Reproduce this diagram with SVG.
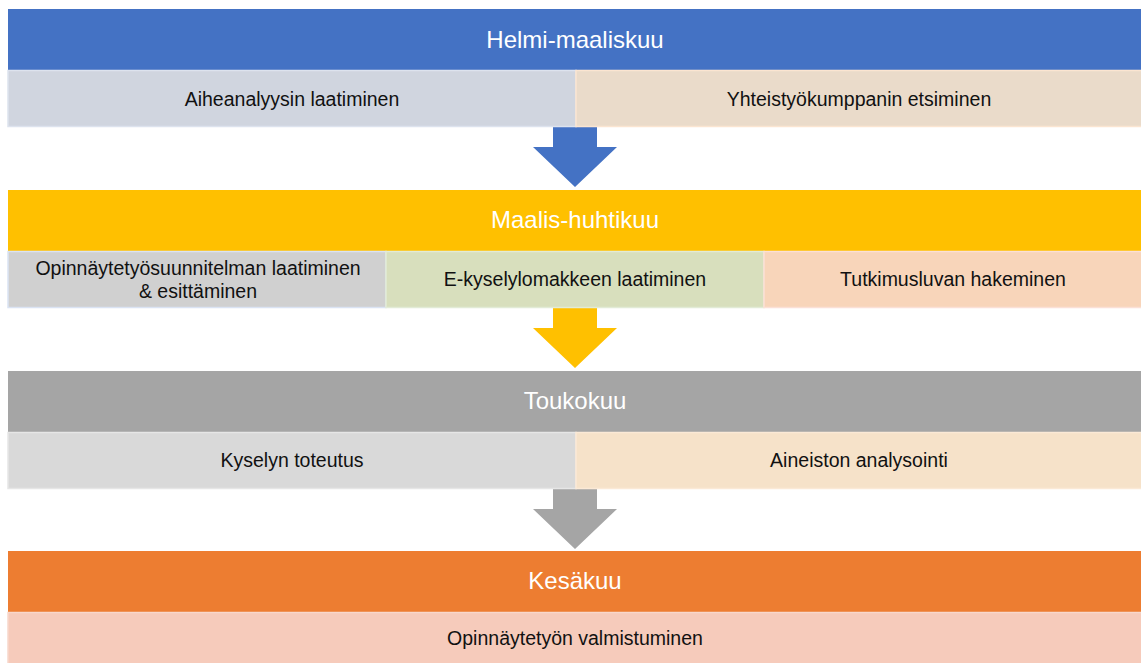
<svg xmlns="http://www.w3.org/2000/svg" width="1141" height="663" viewBox="0 0 1141 663">
<style>
.hd{font-family:"Liberation Sans",Arial,sans-serif;font-size:24px;fill:#fff;text-anchor:middle}
.tx{font-family:"Liberation Sans",Arial,sans-serif;font-size:19.5px;fill:#111;text-anchor:middle}
.bx{stroke-width:1.5}
</style>
<rect width="1141" height="663" fill="#fff"/>
<g id="connectors">
<polygon points="553,127 597,127 597,147 617,147 575,187 533,147 553,147" fill="#4472C4"/>
<polygon points="553,308 597,308 597,328 617,328 575,368 533,328 553,328" fill="#FFC000"/>
<polygon points="553,489 597,489 597,509 617,509 575,549 533,509 553,509" fill="#A5A5A5"/>
</g>
<g id="header1"><rect x="8" y="9" width="1133" height="61" fill="#4472C4"/><text class="hd" x="575" y="48">Helmi-maaliskuu</text></g>
<g id="task1a"><rect class="bx" x="8" y="70.5" width="568" height="56" fill="#D0D5DF" stroke="#DDE3EE"/><text class="tx" x="292" y="106">Aiheanalyysin laatiminen</text></g>
<g id="task1b"><rect class="bx" x="576" y="70.5" width="566" height="56" fill="#EADBCA" stroke="#FBE5D1"/><text class="tx" x="859" y="106">Yhteistyökumppanin etsiminen</text></g>
<g id="header2"><rect x="8" y="190" width="1133" height="61" fill="#FFC000"/><text class="hd" x="575" y="228">Maalis-huhtikuu</text></g>
<g id="task2a"><rect class="bx" x="8" y="251.5" width="378" height="56" fill="#D0D0D0" stroke="#DAE3F3"/><text class="tx" x="198" y="275">Opinnäytetyösuunnitelman laatiminen</text><text class="tx" x="198" y="298">&amp; esittäminen</text></g>
<g id="task2b"><rect class="bx" x="386" y="251.5" width="378" height="56" fill="#D8DFBD" stroke="#E2EBD6"/><text class="tx" x="575" y="286">E-kyselylomakkeen laatiminen</text></g>
<g id="task2c"><rect class="bx" x="764" y="251.5" width="378" height="56" fill="#F8D5BA" stroke="#FBE0D6"/><text class="tx" x="953" y="286">Tutkimusluvan hakeminen</text></g>
<g id="header3"><rect x="8" y="371" width="1133" height="61" fill="#A5A5A5"/><text class="hd" x="575" y="409">Toukokuu</text></g>
<g id="task3a"><rect class="bx" x="8" y="432.5" width="568" height="56" fill="#D9D9D9" stroke="#E6E6E6"/><text class="tx" x="292" y="467">Kyselyn toteutus</text></g>
<g id="task3b"><rect class="bx" x="576" y="432.5" width="566" height="56" fill="#F6E2C9" stroke="#FBE9D6"/><text class="tx" x="859" y="467">Aineiston analysointi</text></g>
<g id="header4"><rect x="8" y="551" width="1133" height="61" fill="#ED7D31"/><text class="hd" x="575" y="589">Kesäkuu</text></g>
<g id="task4"><rect class="bx" x="8" y="612.5" width="1134" height="52" fill="#F6CBBB" stroke="#F8D8CC"/><text class="tx" x="575" y="645">Opinnäytetyön valmistuminen</text></g>
</svg>
